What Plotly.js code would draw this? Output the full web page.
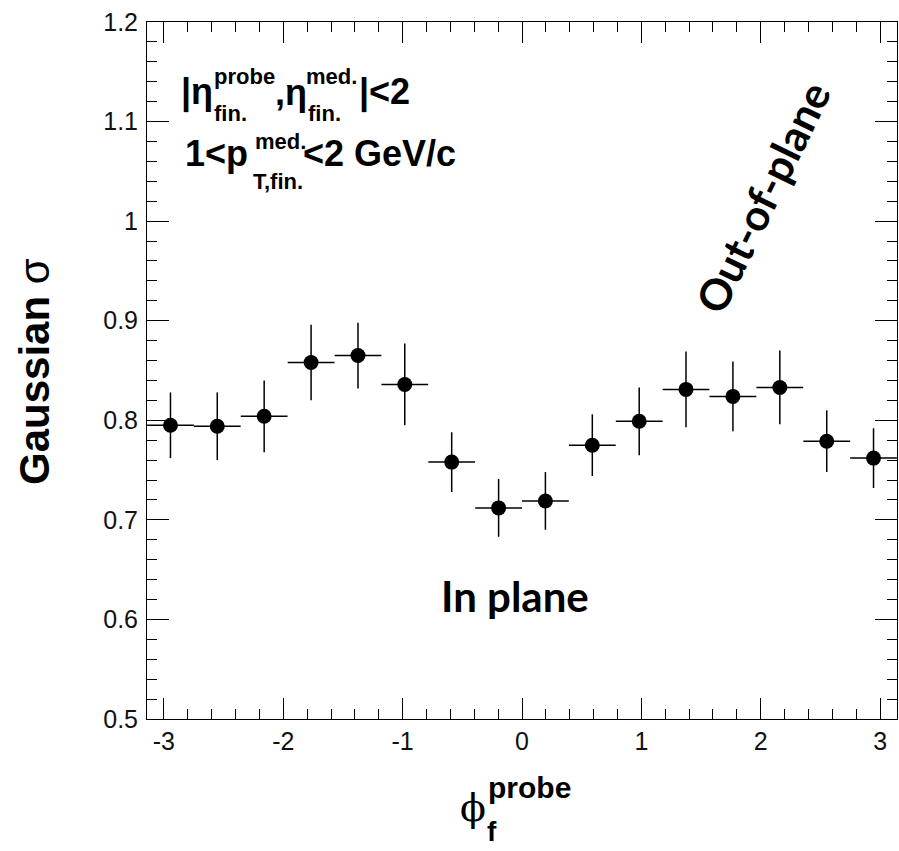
<!DOCTYPE html>
<html>
<head>
<meta charset="utf-8">
<script src="https://cdn.plot.ly/plotly-3.0.1.min.js"></script>
<style>html,body{margin:0;padding:0;background:#fff;}#chart{width:899px;height:851px;}</style>
</head>
<body>
<div id="chart"></div>
<script>
// Bin centres of phi_f^probe (16 bins over [-pi, pi])
var phiCenters = [-2.945, -2.553, -2.160, -1.767, -1.374, -0.982, -0.589, -0.196,
                  0.196, 0.589, 0.982, 1.374, 1.767, 2.160, 2.553, 2.945];
// Half bin widths (horizontal error bars)
var phiHalfWidth = [0.196, 0.196, 0.196, 0.196, 0.196, 0.196, 0.196, 0.196,
                    0.196, 0.196, 0.196, 0.196, 0.196, 0.196, 0.196, 0.196];
// Gaussian sigma values
var sigmaValues = [0.795, 0.794, 0.804, 0.858, 0.865, 0.836, 0.758, 0.712,
                   0.719, 0.775, 0.799, 0.831, 0.824, 0.833, 0.779, 0.762];
// Statistical errors
var sigmaErrors = [0.033, 0.034, 0.036, 0.038, 0.033, 0.041, 0.030, 0.029,
                   0.029, 0.031, 0.034, 0.038, 0.035, 0.037, 0.031, 0.030];

var xTickVals = [-3, -2, -1, 0, 1, 2, 3];
var yTickVals = [0.5, 0.6, 0.7, 0.8, 0.9, 1, 1.1, 1.2];

var L = 147, R = 897, T = 22, B = 719, W = 899, H = 851;
function px(x) { return (x - L) / (R - L); }
function py(y) { return (B - y) / (B - T); }

var ARIAL = 'Liberation Sans, Arial, sans-serif';
var CAL = 'Lato, Open Sans, sans-serif';

function ann(text, x, y, size, opts) {
  var a = {
    xref: 'paper', yref: 'paper', x: px(x), y: py(y),
    text: text, showarrow: false, xanchor: 'left', yanchor: 'middle',
    font: {family: ARIAL, size: size, color: '#000'}, borderpad: 0
  };
  if (opts) { for (var k in opts) { a[k] = opts[k]; } }
  return a;
}

var trace = {
  type: 'scatter', mode: 'markers',
  x: phiCenters, y: sigmaValues,
  marker: {symbol: 'circle', size: 15, color: '#000'},
  error_y: {type: 'data', array: sigmaErrors, visible: true, color: '#000', thickness: 1.5, width: 0},
  error_x: {type: 'data', array: phiHalfWidth, visible: true, color: '#000', thickness: 1.5, width: 0},
  hoverinfo: 'x+y'
};

var MAIN = 36, SUB = 22;
var annotations = [
  // line 1: |eta^probe_fin., eta^med._fin.|<2
  ann('<b>|η</b>', 180, 92, MAIN),
  ann('<b>probe</b>', 213, 77, SUB),
  ann('<b>fin.</b>', 213, 113, SUB),
  ann('<b>,η</b>', 274, 92, MAIN),
  ann('<b>med.</b>', 305, 77, SUB),
  ann('<b>fin.</b>', 307, 113, SUB),
  ann('<b>|&lt;2</b>', 358, 92, MAIN),
  // line 2: 1<p^med._T,fin.<2 GeV/c
  ann('<b>1&lt;p</b>', 184, 154, MAIN),
  ann('<b>med.</b>', 254, 142, SUB),
  ann('<b>T,fin.</b>', 252, 181, SUB),
  ann('<b>&lt;2 GeV/c</b>', 302, 154, MAIN),
  // region labels
  ann('<b>In plane</b>', 515, 596, 42, {xanchor: 'center', font: {family: CAL, size: 42, color: '#000'}}),
  ann('<b>Out-of-plane</b>', 762, 197, 43, {xanchor: 'center', textangle: -64, font: {family: CAL, size: 43, color: '#000'}}),
  // y axis title
  ann('<b>Gaussian</b> σ', 34, 372, 42, {xanchor: 'center', textangle: -90}),
  // x axis title
  ann('ϕ', 473, 808, 38, {xanchor: 'center', font: {family: 'DejaVu Serif, Liberation Serif, serif', size: 38, color: '#000'}}),
  ann('<b>probe</b>', 487, 787, 30),
  ann('<b>f</b>', 486, 831, 28)
];

var layout = {
  width: W, height: H,
  margin: {l: L, r: W - R, t: T, b: H - B, pad: 0},
  paper_bgcolor: '#fff', plot_bgcolor: '#fff',
  showlegend: false,
  xaxis: {
    range: [-Math.PI, Math.PI], tickvals: xTickVals, ticktext: xTickVals.map(String),
    ticks: 'inside', ticklen: 21, tickwidth: 1, tickcolor: '#000',
    minor: {dtick: 0.2, tick0: 0, ticks: 'inside', ticklen: 10, tickwidth: 1, tickcolor: '#000', showgrid: false},
    showline: true, linecolor: '#000', linewidth: 1, mirror: 'allticks',
    showgrid: false, zeroline: false,
    tickfont: {family: ARIAL, size: 25, color: '#111'}
  },
  yaxis: {
    range: [0.5, 1.2], tickvals: yTickVals, ticktext: yTickVals.map(String),
    ticks: 'inside', ticklen: 22, tickwidth: 1, tickcolor: '#000',
    minor: {dtick: 0.02, tick0: 0.5, ticks: 'inside', ticklen: 10, tickwidth: 1, tickcolor: '#000', showgrid: false},
    showline: true, linecolor: '#000', linewidth: 1, mirror: 'allticks',
    showgrid: false, zeroline: false, ticklabelstandoff: 3,
    tickfont: {family: ARIAL, size: 25, color: '#111'}
  },
  annotations: annotations
};

Plotly.newPlot('chart', [trace], layout, {displayModeBar: false, staticPlot: true});
</script>
</body>
</html>
